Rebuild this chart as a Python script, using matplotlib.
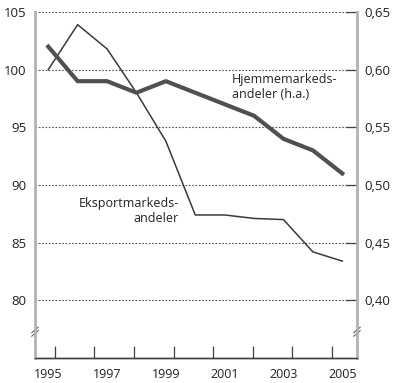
import numpy as np
import matplotlib.pyplot as plt

plt.rcParams['font.family'] = 'Open Sans'
plt.rcParams['font.size'] = 9

years = [1995, 1996, 1997, 1998, 1999, 2000, 2001, 2002, 2003, 2004, 2005]
eksport = [100.0, 103.9, 101.8, 98.0, 93.8, 87.4, 87.4, 87.1, 87.0, 84.2, 83.4]
hjemme = [0.62, 0.59, 0.59, 0.58, 0.59, 0.58, 0.57, 0.56, 0.54, 0.53, 0.51]

left_ticks = [80, 85, 90, 95, 100, 105]
right_ticks = [0.40, 0.45, 0.50, 0.55, 0.60, 0.65]
year_labels = [1995, 1997, 1999, 2001, 2003, 2005]

spine_grey = '#b5b5b5'

fig = plt.figure(figsize=(4.0, 3.83), dpi=100)
ax = fig.add_axes([0.0875, 0.0653, 0.805, 0.9034])
ax2 = ax.twinx()

ax.set_xlim(1994.55, 2005.5)
ax.set_ylim(75, 105)
ax2.set_ylim(0.35, 0.65)

# dotted grid
for v in left_ticks:
    ax.axhline(v, color='#555555', lw=0.8, ls=(0, (1.5, 1.5)), zorder=1)

ax.plot(years, eksport, color='#3a3a3a', lw=1.1, zorder=3)
ax2.plot(years, hjemme, color='#505050', lw=3.0, zorder=3)

# spines
for a in (ax, ax2):
    a.spines['top'].set_visible(False)
    a.spines['left'].set_color(spine_grey)
    a.spines['left'].set_linewidth(1.8)
    a.spines['right'].set_color(spine_grey)
    a.spines['right'].set_linewidth(1.8)
    a.spines['bottom'].set_color('#404040')
    a.spines['bottom'].set_linewidth(1.0)

ax.set_yticks(left_ticks)
ax.set_yticklabels([str(v) for v in left_ticks])
ax.tick_params(axis='y', length=0, pad=6, labelsize=9.5, colors='#222222')

ax2.set_yticks(right_ticks)
ax2.set_yticklabels([f"{v:.2f}".replace('.', ',') for v in right_ticks])
ax2.tick_params(axis='y', direction='in', length=8, width=0.9, color='#404040',
                pad=5, labelsize=9.5, labelcolor='#222222')

ax.set_xticks(year_labels)
ax.set_xticklabels([str(y) for y in year_labels])
ax.tick_params(axis='x', length=0, pad=7, labelsize=9, colors='#222222')
ax.set_xticks(1995.22 + 1.347 * np.arange(8), minor=True)
ax.tick_params(axis='x', which='minor', direction='in', length=9, width=0.9, color='#404040')

# axis break marks
for xpos in (0, 1):
    for dy in (-0.005, 0.005):
        ax.plot([xpos - 0.01, xpos + 0.01], [0.068 + dy, 0.084 + dy],
                transform=ax.transAxes, color='#666666', lw=0.8, clip_on=False, zorder=5)

ax.text(2001.24, 99.75, "Hjemmemarkeds-\nandeler (h.a.)", ha='left', va='top',
        fontsize=9, color='#222222', linespacing=1.25)
ax.text(1999.45, 89.0, "Eksportmarkeds-\nandeler", ha='right', va='top',
        fontsize=9, color='#222222', linespacing=1.25, multialignment='right')

fig.savefig('out.png', dpi=100)
